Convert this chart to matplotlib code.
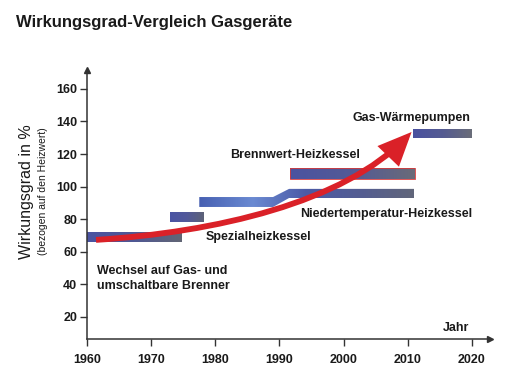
import numpy as np
import matplotlib.pyplot as plt
from matplotlib.colors import LinearSegmentedColormap
from matplotlib.patches import Polygon, FancyArrowPatch
from matplotlib.path import Path

plt.rcParams['font.family'] = ['Liberation Sans', 'DejaVu Sans']

# simple bars: start year, end year, lower / upper efficiency
bar_start = [1960, 1973, 1991.6, 2010.8]
bar_end = [1974.8, 1978.3, 2011.2, 2020]
bar_low = [66, 78.3, 104.7, 130]
bar_high = [72.4, 84.5, 111.5, 135.4]
bar_colors = [['#4a53a2', '#4f5894', '#626674'],
              ['#4a54a4', '#52599a', '#5d6278'],
              ['#4b53a0', '#535a96', '#6a6b78'],
              ['#4a51a0', '#555b92', '#6b6e78']]
bar_edges = [None, None, '#d83a3a', None]

# Niedertemperatur bar with its step
step_x = [1977.5, 1989, 1991.5, 2011]
step_low = [87.5, 93]
step_high = [93.6, 98.6]
step_colors = ['#4760b2', '#6a8ad2', '#4c5aa6', '#545d92', '#61667a']

# red trend arrow (start, two control points, tip)
arrow_x = [1961.4, 1980, 2000, 2010.6]
arrow_y = [67.3, 72, 90, 133.5]

labels = ['Wechsel auf Gas- und\numschaltbare Brenner', 'Spezialheizkessel',
          'Niedertemperatur-Heizkessel', 'Brennwert-Heizkessel', 'Gas-Wärmepumpen']
label_x = [1961.6, 1978.5, 1993.2, 1982.3, 2001.4]
label_y = [43.6, 69.1, 83.2, 119.5, 142.1]

xticks = [1960, 1970, 1980, 1990, 2000, 2010, 2020]
yticks = [20, 40, 60, 80, 100, 120, 140, 160]

fig = plt.figure(figsize=(5.06, 3.8), dpi=100)
ax = fig.add_axes([0.172, 0.108, 0.796, 0.708])

grad = np.linspace(0, 1, 256).reshape(1, -1)


def gradient_poly(xs, ys, colors, edge=None):
    poly = Polygon(np.column_stack([xs, ys]), closed=True, facecolor='none',
                   edgecolor=edge if edge else 'none', lw=0.6, zorder=3)
    ax.add_patch(poly)
    cmap = LinearSegmentedColormap.from_list('g', colors)
    im = ax.imshow(grad, extent=[min(xs), max(xs), min(ys), max(ys)],
                   aspect='auto', cmap=cmap, zorder=2, interpolation='bilinear')
    im.set_clip_path(poly)


for x0, x1, lo, hi, cols, ed in zip(bar_start, bar_end, bar_low, bar_high,
                                    bar_colors, bar_edges):
    gradient_poly([x0, x1, x1, x0], [lo, lo, hi, hi], cols, ed)

sx = [step_x[0], step_x[1], step_x[2], step_x[3], step_x[3], step_x[2], step_x[1], step_x[0]]
sy = [step_low[0], step_low[0], step_low[1], step_low[1],
      step_high[1], step_high[1], step_high[0], step_high[0]]
gradient_poly(sx, sy, step_colors)

ax.set_xlim(1960, 2022.8)
ax.set_ylim(6.5, 171.6)

red = '#da2128'
arrow_path = Path(np.column_stack([arrow_x, arrow_y]),
                  [Path.MOVETO, Path.CURVE4, Path.CURVE4, Path.CURVE4])
arr = FancyArrowPatch(path=arrow_path, arrowstyle='-|>,head_length=1.7,head_width=0.75',
                      mutation_scale=10, color=red, lw=4.2, zorder=5,
                      joinstyle='miter', capstyle='butt')
ax.add_patch(arr)

for t, x, y in zip(labels, label_x, label_y):
    ax.text(x, y, t, fontsize=9, fontweight='bold', color='#1a1a1a',
            ha='left', va='center', linespacing=1.4, zorder=6)
ax.text(2015.5, 13.3, 'Jahr', fontsize=9, fontweight='bold', color='#1a1a1a',
        ha='left', va='center')

for s in ['top', 'right']:
    ax.spines[s].set_visible(False)
for s in ['left', 'bottom']:
    ax.spines[s].set_color('#333333')
    ax.spines[s].set_linewidth(1.1)
ax.plot(1, 0, '>', color='#333333', ms=5, transform=ax.transAxes, clip_on=False)
ax.plot(0, 1, '^', color='#333333', ms=5, transform=ax.transAxes, clip_on=False)

ax.set_xticks(xticks)
ax.set_yticks(yticks)
ax.tick_params(axis='both', length=5, width=1, color='#333333', labelsize=9,
               labelcolor='#1a1a1a')
ax.tick_params(axis='x', pad=6)
ax.tick_params(axis='y', pad=2)
for lab in ax.get_xticklabels() + ax.get_yticklabels():
    lab.set_fontweight('bold')

fig.text(0.032, 0.942, 'Wirkungsgrad-Vergleich Gasgeräte', fontsize=12,
         fontweight='bold', color='#1a1a1a', ha='left', va='center')
fig.text(0.053, 0.496, 'Wirkungsgrad in %', fontsize=11.5, rotation=90,
         ha='center', va='center', color='#1a1a1a')
fig.text(0.084, 0.496, '(bezogen auf den Heizwert)', fontsize=7.5, rotation=90,
         ha='center', va='center', color='#1a1a1a')

fig.savefig('out.png', dpi=100)
